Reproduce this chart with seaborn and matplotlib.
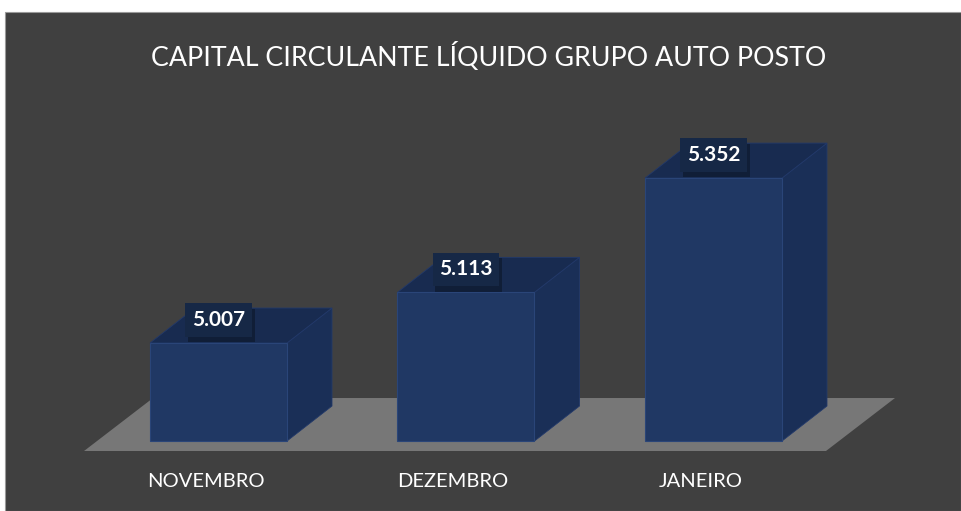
import matplotlib
matplotlib.use("Agg")
import matplotlib.pyplot as plt
import matplotlib.patheffects as pe
import matplotlib.transforms as mtrans
from matplotlib.patches import Polygon, Rectangle
import pandas as pd
import seaborn as sns

titulo = "CAPITAL CIRCULANTE LÍQUIDO GRUPO AUTO POSTO"
meses = ["NOVEMBRO", "DEZEMBRO", "JANEIRO"]
valores = [5.007, 5.113, 5.352]
rotulos = ["5.007", "5.113", "5.352"]
base = 4.802  # eixo do grafico nao comeca em zero

fundo = "#404040"
cor_frente = "#203864"
cor_lado = "#1a2f57"
cor_topo = "#182b50"
cor_piso = "#777777"

sns.set_style("dark")
plt.rcParams["font.family"] = ["Lato", "DejaVu Sans"]

fig = plt.figure(figsize=(9.61, 5.11), dpi=100, facecolor="white")
fig.patches.append(Rectangle((5 / 961, 0), 956 / 961, 499 / 511, transform=fig.transFigure,
                             fc=fundo, ec="#9a9a9a", lw=0.8, zorder=-5))

ax = fig.add_axes([60 / 961, 49 / 511, 880 / 961, 372 / 511])
ax.set_facecolor("none")

df = pd.DataFrame({"mes": meses, "valor": valores})
sns.barplot(data=df, x="mes", y="valor", color=cor_frente, saturation=1, width=0.5535,
            edgecolor="#2a4578", linewidth=0.8, ax=ax, zorder=3)

ax.set_xlim(-0.6404, 2.9152)
ax.set_ylim(base - 0.0439, base + 0.7343)
for p, v in zip(ax.patches, valores):
    p.set_y(base)
    p.set_height(v - base)


def desloc(x, y, dx, dy):
    X, Y = ax.transData.transform((x, y))
    return ax.transData.inverted().transform((X + dx, Y + dy))


# profundidade das barras (pixels)
px, py = 45, 35

barras = list(ax.patches)

# piso
x0 = barras[0].get_x()
x1 = barras[-1].get_x() + barras[-1].get_width()
f1 = desloc(x0, base, -66, -10)
f2 = desloc(x1, base, 44, -10)
f3 = desloc(*f2, 69, 53)
f4 = desloc(*f1, 69, 53)
ax.add_patch(Polygon([f1, f2, f3, f4], closed=True, fc=cor_piso, ec="none", zorder=1,
                     clip_on=False))

for p, v, txt in zip(barras, valores, rotulos):
    xl = p.get_x()
    xr = xl + p.get_width()
    lado = [(xr, base), desloc(xr, base, px, py), desloc(xr, v, px, py), (xr, v)]
    topo = [(xl, v), (xr, v), desloc(xr, v, px, py), desloc(xl, v, px, py)]
    ax.add_patch(Polygon(lado, closed=True, fc=cor_lado, ec="#22396a", lw=0.6, zorder=2))
    ax.add_patch(Polygon(topo, closed=True, fc=cor_topo, ec="#22396a", lw=0.6, zorder=2))
    xc = xl + p.get_width() / 2
    tx, ty = desloc(xc, v, 0, 23)
    t = ax.text(tx, ty, txt, ha="center", va="center", color="white", fontsize=15,
                fontweight="bold", zorder=5,
                bbox=dict(boxstyle="square,pad=0.32", fc="#162846", ec="none"))
    t.get_bbox_patch().set_path_effects([
        pe.withSimplePatchShadow(offset=(2, -4), shadow_rgbFace="black", alpha=0.3)])

ax.set_xlabel("")
ax.set_ylabel("")
ax.set_yticks([])
ax.tick_params(axis="x", length=0, colors="white", labelsize=14.5, pad=8)
desl = mtrans.ScaledTranslation(-0.13, 0, fig.dpi_scale_trans)
for lab in ax.get_xticklabels():
    lab.set_transform(lab.get_transform() + desl)
for s in ax.spines.values():
    s.set_visible(False)
ax.grid(False)

fig.text(489 / 961, 1 - 57 / 511, titulo, ha="center", va="center", color="white",
         fontsize=19.3)

fig.savefig("out.png", dpi=100, facecolor=fig.get_facecolor())
